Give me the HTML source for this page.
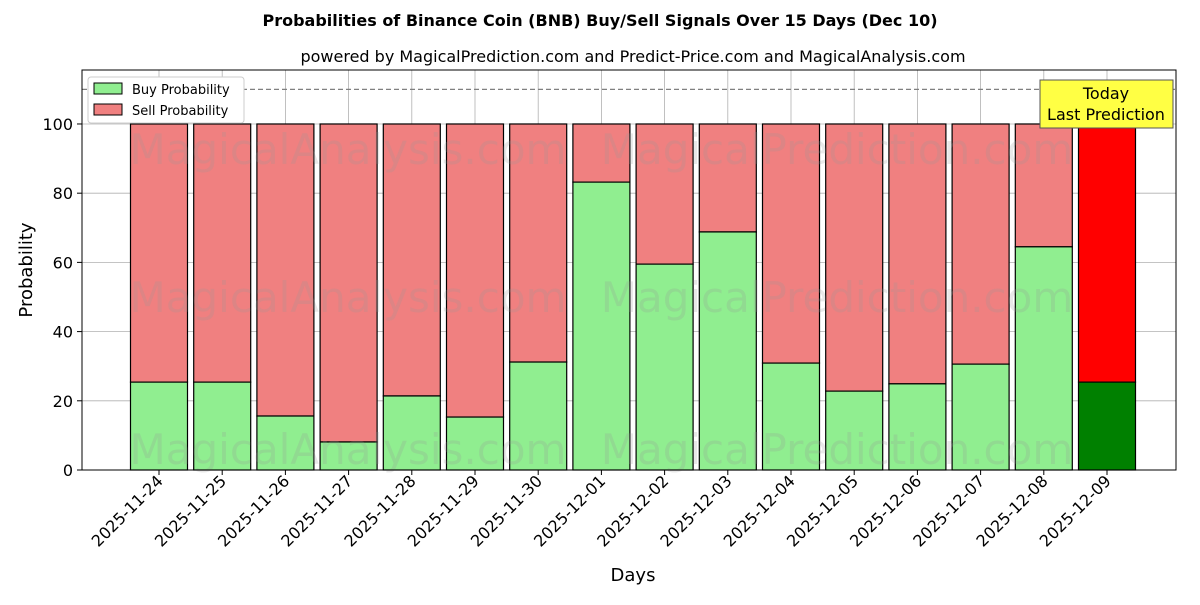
<!DOCTYPE html>
<html><head><meta charset="utf-8"><style>
body{margin:0;background:#fff;font-family:"Liberation Sans","DejaVu Sans",sans-serif}
</style></head><body>
<svg id="chart" width="1200" height="600" xmlns="http://www.w3.org/2000/svg" font-family="DejaVu Sans, Liberation Sans, sans-serif"></svg>
<script>
const categories=["2025-11-24","2025-11-25","2025-11-26","2025-11-27","2025-11-28","2025-11-29","2025-11-30","2025-12-01","2025-12-02","2025-12-03","2025-12-04","2025-12-05","2025-12-06","2025-12-07","2025-12-08","2025-12-09"];
const buyValues=[25.4,25.4,15.6,8.1,21.4,15.3,31.2,83.2,59.5,68.8,30.9,22.8,24.9,30.6,64.5,25.4];
const yTicks=[0,20,40,60,80,100];
const NS="http://www.w3.org/2000/svg";
const svg=document.getElementById('chart');
const L=82,R=1176,T=70,B=470,ymax=115.6;
const step=63.2, x0=159;
function X(i){return x0+i*step;}
function Y(v){return B-(v/ymax)*(B-T);}
function el(tag,attrs,parent){const e=document.createElementNS(NS,tag);for(const k in attrs)e.setAttribute(k,attrs[k]);(parent||svg).appendChild(e);return e;}
function txt(s,attrs){const e=el('text',attrs);e.textContent=s;return e;}
yTicks.forEach(v=>{const g=el('line',{x1:L,x2:R,y1:Y(v),y2:Y(v),stroke:'#b0b0b0','stroke-width':0.8});

});
categories.forEach((c,i)=>{const g=el('line',{x1:X(i),x2:X(i),y1:T,y2:B,stroke:'#b0b0b0','stroke-width':0.8});

});
const bw=57;
categories.forEach((c,i)=>{
const last=i===categories.length-1;
const b=buyValues[i];
const s=el('rect',{x:X(i)-bw/2,y:Y(100),width:bw,height:Y(b)-Y(100),fill:last?'#ff0000':'#f08080',stroke:'#000','stroke-width':1.2});


const r=el('rect',{x:X(i)-bw/2,y:Y(b),width:bw,height:B-Y(b),fill:last?'#008000':'#90ee90',stroke:'#000','stroke-width':1.2});


const t=txt(c,{transform:`translate(${X(i)+5},${B+12}) rotate(-45)`,'font-size':16,'text-anchor':'end',fill:'#000'});


el('line',{x1:X(i),x2:X(i),y1:B,y2:B+5,stroke:'#000'});
});
[[150,'MagicalAnalysis.com',348],[150,'MagicalPrediction.com',837],[298,'MagicalAnalysis.com',348],[298,'MagicalPrediction.com',837],[450,'MagicalAnalysis.com',348],[450,'MagicalPrediction.com',837]].forEach(w=>{
const t=txt(w[1],{x:w[2],y:w[0]+14,'font-size':42,fill:'rgba(150,150,150,0.22)','text-anchor':'middle'});

});
const d=el('line',{x1:L,x2:R,y1:Y(110),y2:Y(110),stroke:'#808080','stroke-width':1.2,'stroke-dasharray':'5,3'});


const f=el('rect',{x:L,y:T,width:R-L,height:B-T,fill:'none',stroke:'#000','stroke-width':1});


yTicks.forEach(v=>{el('line',{x1:L-5,x2:L,y1:Y(v),y2:Y(v),stroke:'#000'});
const t=txt(String(v),{x:L-9,y:Y(v)+6,'font-size':16,'text-anchor':'end'});

});
</script>
<svg style="position:absolute;left:0;top:0" width="1200" height="600" font-family="DejaVu Sans, Liberation Sans, sans-serif">
<text x="600" y="26" font-size="16" font-weight="bold" text-anchor="middle">Probabilities of Binance Coin (BNB) Buy/Sell Signals Over 15 Days (Dec 10)</text>
<text x="633" y="62" font-size="16" text-anchor="middle">powered by MagicalPrediction.com and Predict-Price.com and MagicalAnalysis.com</text>
<text x="633" y="581" font-size="18" text-anchor="middle">Days</text>
<text transform="translate(32,270) rotate(-90)" font-size="18" text-anchor="middle">Probability</text>
<g>
<rect x="88" y="77" width="156" height="46" fill="#fff" stroke="#ccc" rx="3"/>
<rect x="94" y="83" width="28" height="11" fill="#90ee90" stroke="#000"/>
<text x="132" y="94" font-size="13">Buy Probability</text>
<rect x="94" y="104" width="28" height="11" fill="#f08080" stroke="#000"/>
<text x="132" y="115" font-size="13">Sell Probability</text>
</g>
<g>
<rect x="1040" y="80" width="133" height="48" fill="#ffff44" stroke="#555"/>
<text x="1106" y="99" font-size="16" text-anchor="middle">Today</text>
<text x="1106" y="120" font-size="16" text-anchor="middle">Last Prediction</text>
</g>
</svg>
</body></html>
